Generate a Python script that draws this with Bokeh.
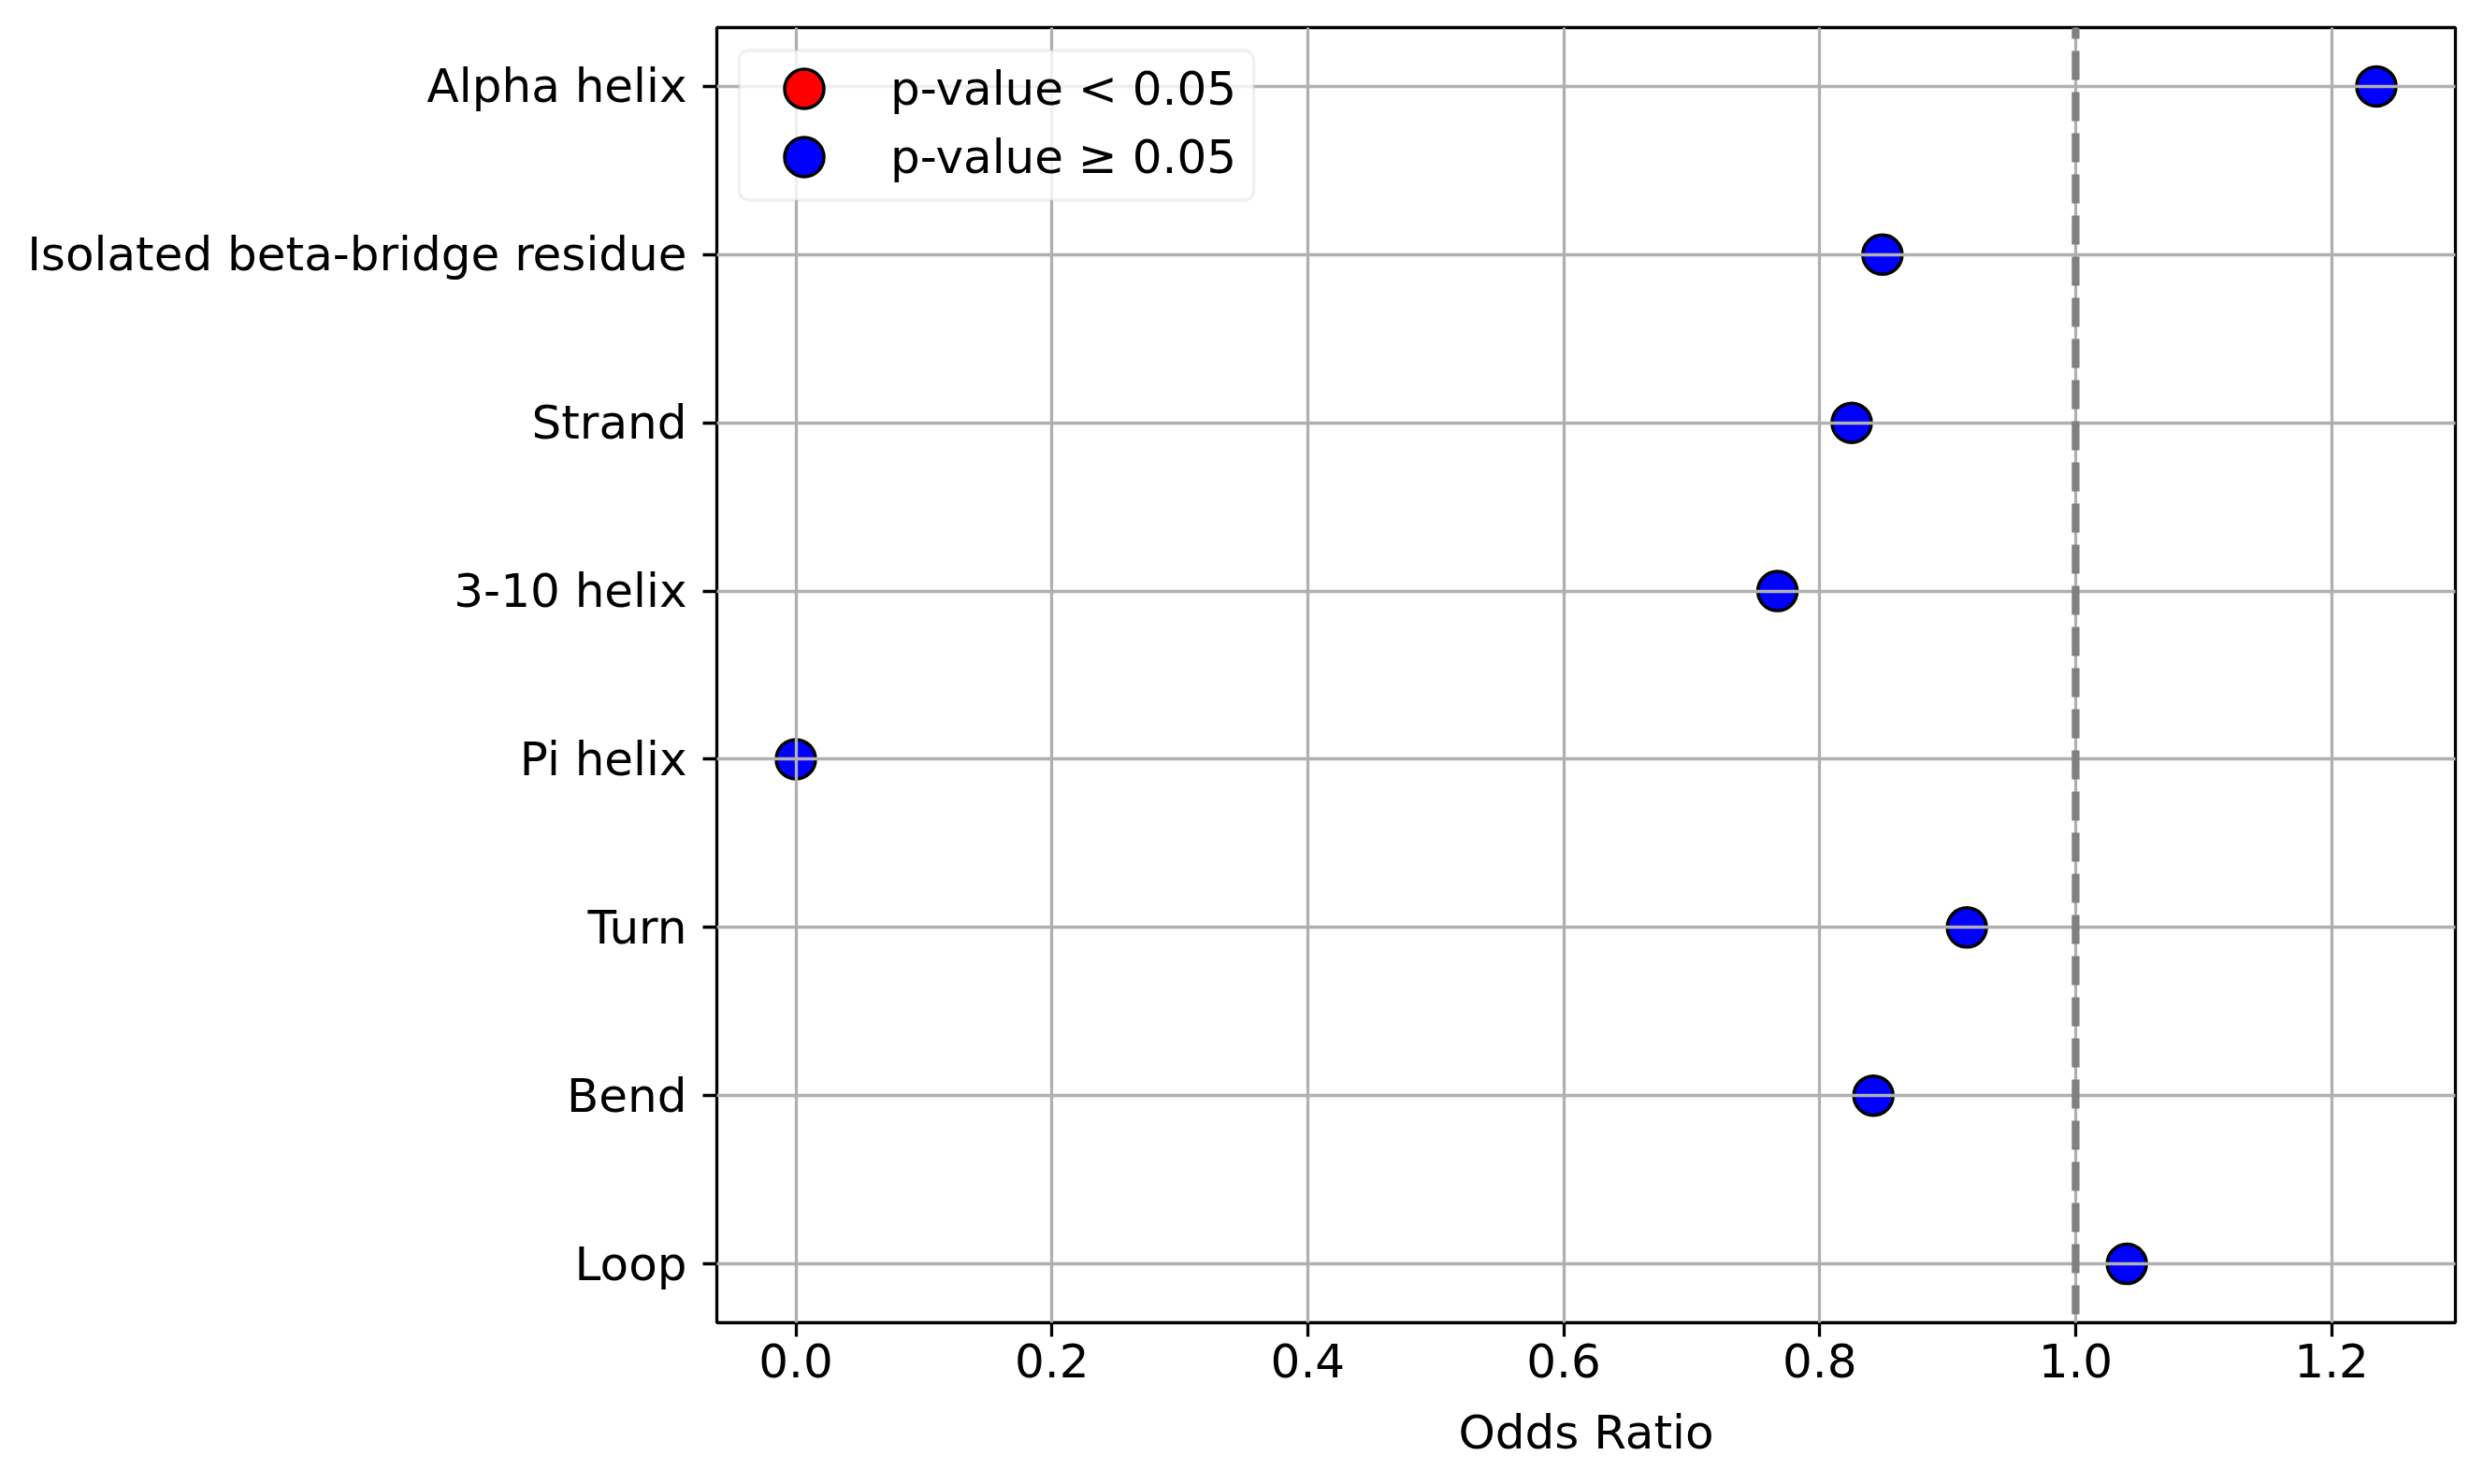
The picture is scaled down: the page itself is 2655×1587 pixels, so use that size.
import numpy as np
from bokeh.plotting import figure
from bokeh.models import (ColumnDataSource, Range1d, FixedTicker, Span, Legend,
                          LegendItem, BoxAnnotation, NumeralTickFormatter)
from bokeh.embed import file_html
from bokeh.resources import INLINE

# ---- data ----
categories = ["Alpha helix", "Isolated beta-bridge residue", "Strand", "3-10 helix",
              "Pi helix", "Turn", "Bend", "Loop"]
odds_ratio = [1.235, 0.849, 0.825, 0.767, 0.0, 0.915, 0.842, 1.040]
significant = [False, False, False, False, False, False, False, False]
x_ticks = [0.0, 0.2, 0.4, 0.6, 0.8, 1.0, 1.2]
reference_line = 1.0
legend_labels = ["p-value < 0.05", "p-value \u2265 0.05"]
x_label = "Odds Ratio"

FONT = "DejaVu Sans"
FRAME_W, FRAME_H = 1859, 1385
n = len(categories)
ypos = np.array([n - 1 - i for i in range(n)], dtype=float)
odds = np.array(odds_ratio, dtype=float)
sig = np.array(significant, dtype=bool)

# one source per group; points not in the group are NaN (not drawn)
sig_src = ColumnDataSource(dict(x=np.where(sig, odds, np.nan), y=np.where(sig, ypos, np.nan)))
non_src = ColumnDataSource(dict(x=np.where(~sig, odds, np.nan), y=np.where(~sig, ypos, np.nan)))

xmin, xmax = min(odds_ratio), max(odds_ratio)
xpad = 0.05 * (xmax - xmin)
ypad = 0.05 * (n - 1)

p = figure(frame_width=FRAME_W, frame_height=FRAME_H,
           min_border_left=766, min_border_top=29, min_border_right=14, min_border_bottom=157,
           x_range=Range1d(xmin - xpad, xmax + xpad),
           y_range=Range1d(-ypad, n - 1 + ypad),
           output_backend="svg", toolbar_location=None)

p.background_fill_color = "white"
p.border_fill_color = "white"
p.outline_line_color = "black"
p.outline_line_width = 3.3

r_sig = p.scatter("x", "y", source=sig_src, size=42, fill_color="#ff0000",
                  line_color="black", line_width=3.5)
r_non = p.scatter("x", "y", source=non_src, size=42, fill_color="#0000ff",
                  line_color="black", line_width=3.5)

# axes
for ax in (p.xaxis[0], p.yaxis[0]):
    ax.axis_line_color = None
    ax.major_tick_out = 15
    ax.major_tick_in = 0
    ax.major_tick_line_width = 3.3
    ax.major_tick_line_color = "black"
    ax.minor_tick_line_color = None
    ax.major_label_text_font = FONT
    ax.major_label_text_font_size = "50px"
    ax.major_label_text_color = "black"

p.xaxis.ticker = FixedTicker(ticks=x_ticks)
p.xaxis.formatter = NumeralTickFormatter(format="0.0")
p.xaxis.major_label_standoff = 7
p.xaxis.axis_label = x_label
p.xaxis.axis_label_text_font = FONT
p.xaxis.axis_label_text_font_size = "50px"
p.xaxis.axis_label_text_font_style = "normal"
p.xaxis.axis_label_text_color = "black"
p.xaxis.axis_label_standoff = 27

p.yaxis.ticker = FixedTicker(ticks=[float(v) for v in ypos])
p.yaxis.major_label_overrides = {int(y): c for y, c in zip(ypos, categories)}
p.yaxis.major_label_standoff = 17

for g in (p.xgrid[0], p.ygrid[0]):
    g.grid_line_color = "#b0b0b0"
    g.grid_line_width = 3.3
    g.level = "guide"

# reference line (above the grid)
vline = Span(location=reference_line, dimension="height", line_color="#808080",
             line_width=8.3, line_dash="31 13", line_dash_offset=19)
p.add_layout(vline)

# legend frame
box = BoxAnnotation(left=24, right=574, top=FRAME_H - 24.5, bottom=FRAME_H - 184.5,
                    left_units="screen", right_units="screen",
                    top_units="screen", bottom_units="screen",
                    fill_color="white", fill_alpha=0.8,
                    line_color="#cccccc", line_width=3.3, border_radius=10)
p.add_layout(box)

GH = 105
for i, (lab, rend) in enumerate(zip(legend_labels, [r_sig, r_non])):
    top = 13 + 73 * i
    leg = Legend(items=[LegendItem(label=lab, renderers=[rend])],
                 location=(13, FRAME_H - top - GH), margin=0, padding=0, spacing=0,
                 glyph_width=161, glyph_height=GH, label_standoff=12,
                 label_text_font=FONT, label_text_font_size="50px",
                 label_text_color="black",
                 border_line_alpha=0, background_fill_alpha=0)
    p.add_layout(leg)

open("out.html", "w").write(file_html(p, INLINE))
